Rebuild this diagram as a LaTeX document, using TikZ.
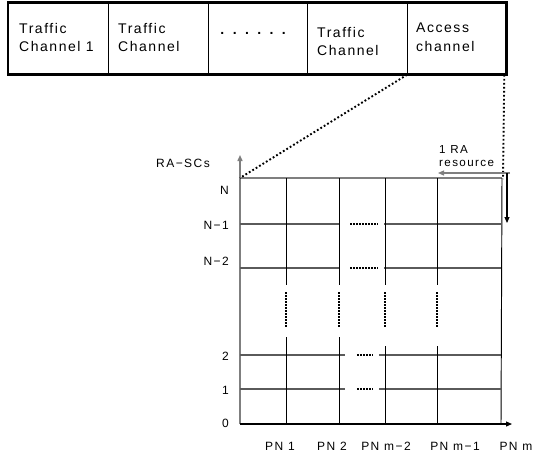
\documentclass[tikz,border=0pt]{standalone}
\usepackage{fontspec}
\setmainfont{Liberation Sans}[LetterSpace=12]
\usetikzlibrary{arrows.meta}
\definecolor{axisgray}{HTML}{7F7F7F}
\definecolor{rowgray}{HTML}{5A5A5A}
\tikzset{
  cell/.style={draw, line width=1.3pt, minimum height=71pt, inner sep=0pt, anchor=north west},
  celltext/.style={anchor=north west, inner sep=0pt, align=left,
                   font=\fontsize{14}{18.5}\selectfont\addfontfeatures{LetterSpace=11}},
  axislabel/.style={inner sep=0pt, font=\fontsize{12}{13}\selectfont},
  gridv/.style={line width=0.95pt, black},
  gridh/.style={line width=1.1pt, rowgray},
  gapdots/.style={line width=2pt, dash pattern=on 1.6pt off 1.4pt},
  zoomdots/.style={line width=1.9pt, dash pattern=on 1.8pt off 2.2pt},
  tip/.style={-{Triangle[length=6pt,width=5pt]}}
}
\begin{document}
\begin{tikzpicture}[x=1pt, y=-1pt]
\useasboundingbox (0,0) rectangle (535,458);

% ---- channel frame ----
\node[cell, minimum width=100pt] (c1) at (8,2.5) {};
\node[cell, minimum width=100pt] (c2) at (108,2.5) {};
\node[cell, minimum width=99pt]  (c3) at (208,2.5) {};
\node[cell, minimum width=100pt] (c4) at (307,2.5) {};
\node[cell, minimum width=98pt]  (c5) at (407,2.5) {};
\draw[line width=2.8pt] (c1.north west) rectangle (c5.south east);

\node[celltext] (t1) at ([shift={(11,20.5)}]c1.north west) {Traffic\\Channel 1};
\node[celltext] (t2) at ([shift={(10,20.5)}]c2.north west) {Traffic\\Channel};
\node[inner sep=0pt, font=\fontsize{14}{14}\bfseries] (t3) at ([shift={(-5,-5.5)}]c3.center)
  {.\hspace{8.4pt}.\hspace{8.4pt}.\hspace{8.4pt}.\hspace{8.4pt}.\hspace{8.4pt}.};
\node[celltext] (t4) at ([shift={(10,24.5)}]c4.north west) {Traffic\\Channel};
\node[celltext] (t5) at ([shift={(9,20.5)}]c5.north west) {Access\\channel};

% ---- resource grid ----
\coordinate (O)   at (240,424);
\coordinate (yt)  at (240,155);
\coordinate (xt)  at (512,424);
\coordinate (NL)  at (240,178);
\coordinate (NR)  at (502,178);
\coordinate (BR)  at (501,424);

% axes
\draw[tip, line width=1.4pt, axisgray] (O) -- (yt);
\draw[tip, line width=1.2pt, black] (O) -- (xt);

% top row and right edge
\draw[line width=1.3pt, axisgray] (NL) -- (NR);
\draw[gridv] (NR) -- (BR);

% upper rows with gaps
\foreach \r in {224,268}{
  \draw[gridh] (240,\r) -- (339,\r);
  \draw[gapdots] (350,\r) -- (378,\r);
  \draw[gridh] (384,\r) -- (501,\r);
}
% lower rows with gaps
\foreach \r in {355,389}{
  \draw[gridh] (240,\r) -- (345,\r);
  \draw[gapdots] (357,\r) -- (373,\r);
  \draw[gridh] (379,\r) -- (501,\r);
}

% column lines, broken in the middle
\foreach \c in {286,339,385,437}{
  \draw[gridv] (\c,178) -- (\c,285);
  \draw[gapdots] (\c,292) -- (\c,327);
}
\foreach \c in {286,339}{ \draw[gridv] (\c,337) -- (\c,424); }
\foreach \c in {385,437}{ \draw[gridv] (\c,346) -- (\c,424); }

% zoom connectors from the access channel
\draw[zoomdots] (c5.south west) -- (NL);
\coordinate (zr) at (503,179);
\draw[zoomdots] ([xshift=-2pt]c5.south east) -- (zr);

% one RA resource markers
\coordinate (ra1) at (510,173);
\coordinate (ra2) at (438,173);
\coordinate (ra3) at (507,173);
\coordinate (ra4) at (507,223);
\draw[tip, line width=1.2pt, axisgray] (ra1) -- (ra2);
\draw[tip, line width=1.1pt, black] (ra3) -- (ra4);
\node[anchor=west, align=left, inner sep=0pt, font=\fontsize{11.6}{12.5}\selectfont] (ra) at (439,156) {1 RA\\resource};

% axis labels
\node[axislabel] (ylab) at (183,163) {RA−SCs};
\node[axislabel, anchor=east] (lN)  at (229,190) {N};
\node[axislabel, anchor=east] (lN1) at (229,225) {N−1};
\node[axislabel, anchor=east] (lN2) at (229,261) {N−2};
\node[axislabel, anchor=east] (l2)  at (229,356) {2};
\node[axislabel, anchor=east] (l1)  at (229,390) {1};
\node[axislabel, anchor=east] (l0)  at (229,423) {0};

\node[axislabel] (p1)  at (280,446) {PN 1};
\node[axislabel] (p2)  at (332,446) {PN 2};
\node[axislabel] (p3)  at (386,446) {PN m−2};
\node[axislabel] (p4)  at (455,446) {PN m−1};
\node[axislabel] (p5)  at (516,446) {PN m};
\end{tikzpicture}
\end{document}
